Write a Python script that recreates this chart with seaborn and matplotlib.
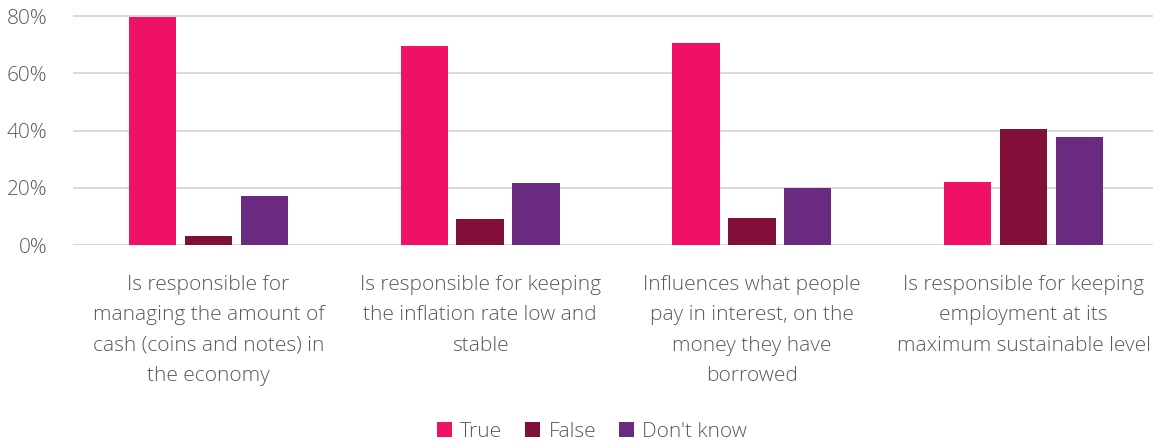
import matplotlib
matplotlib.use("Agg")
import matplotlib.pyplot as plt
from matplotlib.ticker import FuncFormatter
from matplotlib.patches import Patch
import pandas as pd
import seaborn as sns

statements = [
    "Is responsible for\nmanaging the amount of\ncash (coins and notes) in\nthe economy",
    "Is responsible for keeping\nthe inflation rate low and\nstable",
    "Influences what people\npay in interest, on the\nmoney they have\nborrowed",
    "Is responsible for keeping\nemployment at its\nmaximum sustainable level",
]
answers = ["True", "False", "Don't know"]
true_pct = [79.6, 69.6, 70.6, 21.9]
false_pct = [3.1, 9.0, 9.5, 40.6]
dont_know_pct = [17.2, 21.5, 19.9, 37.7]
y_ticks = [0, 20, 40, 60, 80]

palette = {"True": "#EE1166", "False": "#820F3A", "Don't know": "#6A2A80"}

rows = []
for answer, values in zip(answers, [true_pct, false_pct, dont_know_pct]):
    for statement, v in zip(statements, values):
        rows.append({"statement": statement, "answer": answer, "pct": v})
df = pd.DataFrame(rows)

sns.set_theme(style="white")
plt.rcParams["font.family"] = ["Open Sans", "DejaVu Sans"]
plt.rcParams["font.weight"] = "light"

W, H = 1153, 444
fig = plt.figure(figsize=(W / 100, H / 100), dpi=100)
px_per_pct = 229 / 80
ymax = 80.6
ax = fig.add_axes([72.5 / W, (H - 245) / H, (1159.5 - 72.5) / W, ymax * px_per_pct / H])

sns.barplot(
    data=df, x="statement", y="pct", hue="answer", hue_order=answers,
    order=statements, palette=palette, width=0.617, gap=0.152,
    linewidth=0, saturation=1, legend=False, ax=ax,
)

text_color = "#595959"
ax.set_ylim(0, ymax)
ax.set_yticks(y_ticks)
ax.yaxis.set_major_formatter(FuncFormatter(lambda v, _: f"{v:.0f}%"))
ax.set_xlim(-0.5, len(statements) - 0.5)
ax.set_xticks(range(len(statements)))
ax.set_xticklabels(statements, linespacing=1.69, ha="center",
                   fontsize=15, color=text_color)
ax.grid(axis="y", color="#d9d9d9", linewidth=1.4)
ax.set_axisbelow(True)
for s in ax.spines.values():
    s.set_visible(False)
ax.set_xlabel("")
ax.set_ylabel("")
ax.tick_params(axis="y", length=0, pad=18, labelsize=15, labelcolor=text_color)
ax.tick_params(axis="x", length=0, pad=21.5)

handles = [Patch(facecolor=palette[a], edgecolor="none", label=a) for a in answers]
fig.legend(
    handles=handles, loc="center", bbox_to_anchor=(592 / W, 12 / H), ncol=3,
    frameon=False, fontsize=15, handlelength=0.72, handleheight=0.72,
    handletextpad=0.4, columnspacing=1.1, labelcolor=text_color,
)

fig.savefig("out.png", dpi=100)
